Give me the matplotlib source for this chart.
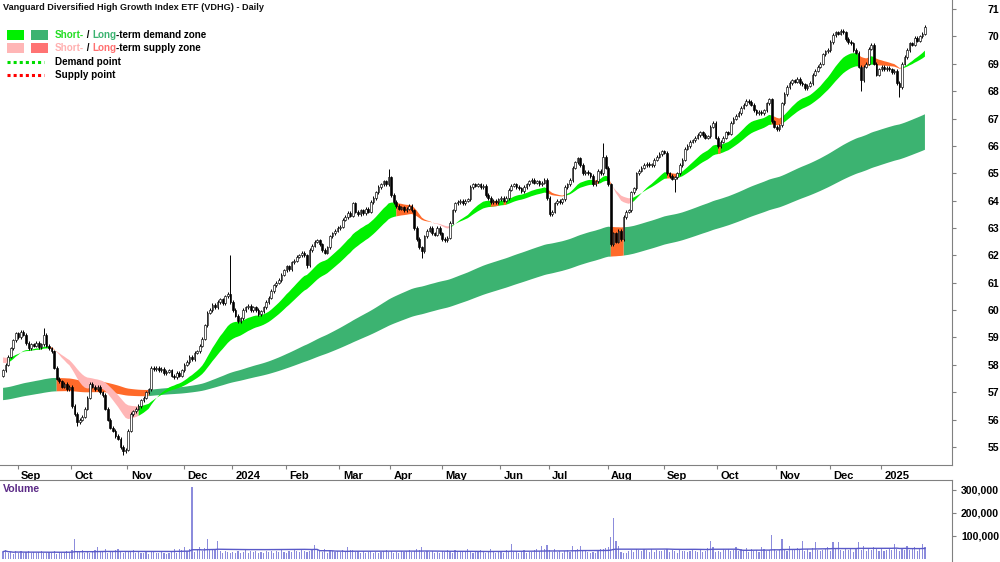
import numpy as np
import pandas as pd
import matplotlib
matplotlib.use("Agg")
import matplotlib.pyplot as plt
from matplotlib.transforms import ScaledTranslation
from matplotlib.patches import Rectangle

plt.rcParams['font.family'] = ['Liberation Sans', 'DejaVu Sans']

title = "Vanguard Diversified High Growth Index ETF (VDHG) - Daily"
start_date = "2023-08-24"
asx_holidays = ["2023-12-25", "2023-12-26", "2024-01-01", "2024-01-26", "2024-03-29",
                "2024-04-01", "2024-04-25", "2024-06-10", "2024-12-25", "2024-12-26",
                "2025-01-01", "2025-01-27"]

closes = [
    57.8, 58.0, 58.3, 58.6, 58.9, 59.15, 59.0, 59.2, 59.1, 58.8,
    58.6, 58.75, 58.7, 58.8, 58.65, 58.75, 59.1, 58.7, 58.6, 58.5,
    57.9, 57.5, 57.4, 57.2, 57.3, 57.1, 57.2, 56.5, 56.2, 55.9,
    56.0, 56.1, 56.4, 56.8, 57.3, 57.2, 57.1, 57.2, 57.0, 56.9,
    56.4, 56.0, 55.7, 55.6, 55.4, 55.3, 55.0, 54.85, 54.9, 55.6,
    56.2, 56.3, 56.4, 56.5, 56.7, 56.8, 57.0, 57.1, 57.9, 57.85,
    57.9, 57.8, 57.85, 57.7, 57.75, 57.8, 57.6, 57.55, 57.7, 57.6,
    57.8, 58.0, 58.1, 58.3, 58.2, 58.45, 58.5, 58.7, 58.95, 59.45,
    59.9, 60.0, 60.2, 60.1, 60.3, 60.4, 60.25, 60.5, 60.6, 60.3,
    60.0, 59.8, 59.6, 59.7, 60.0, 60.1, 60.15, 60.0, 60.1, 60.0,
    59.85, 59.95, 60.1, 60.3, 60.45, 60.7, 60.9, 61.0, 61.1, 61.3,
    61.45, 61.6, 61.5, 61.75, 61.8, 61.95, 62.0, 62.1, 62.0, 61.65,
    62.2, 62.35, 62.5, 62.55, 62.4, 62.2, 62.1, 62.3, 62.7, 62.8,
    62.9, 63.0, 63.05, 63.3, 63.4, 63.55, 63.45, 63.9, 63.6, 63.5,
    63.65, 63.55, 63.7, 63.6, 63.95, 64.1, 64.3, 64.5, 64.6, 64.7,
    64.6, 64.85, 64.2, 63.95, 63.8, 63.7, 63.75, 63.65, 63.7, 63.8,
    63.65, 63.0, 62.6, 62.3, 62.15, 62.7, 62.9, 63.0, 62.8, 62.75,
    63.0, 62.8, 62.6, 62.55, 62.65, 63.2, 63.65, 63.9, 63.95, 64.0,
    63.9, 64.0, 64.05, 64.5, 64.6, 64.55, 64.6, 64.5, 64.55, 64.2,
    64.1, 63.95, 64.0, 63.95, 64.05, 64.1, 64.0, 64.1, 64.4, 64.55,
    64.6, 64.5, 64.45, 64.35, 64.5, 64.6, 64.7, 64.75, 64.65, 64.7,
    64.6, 64.65, 64.75, 64.1, 63.5, 63.6, 63.9, 64.0, 63.95, 64.05,
    64.5, 64.6, 64.75, 65.2, 65.4, 65.55, 65.3, 65.0, 65.05, 65.0,
    64.9, 64.6, 64.7, 65.1, 65.0, 65.6, 65.2, 64.6, 62.4, 62.8,
    62.5, 62.9, 62.6, 63.4, 63.6, 63.65, 64.3, 64.45, 65.0, 65.1,
    65.2, 65.3, 65.35, 65.3, 65.3, 65.5, 65.6, 65.7, 65.8, 65.75,
    65.0, 64.9, 64.8, 64.85, 65.0, 65.3, 65.5, 65.9, 66.0, 66.15,
    66.2, 66.3, 66.4, 66.5, 66.4, 66.3, 66.35, 66.7, 66.85, 66.3,
    66.0, 66.15, 66.3, 66.5, 66.45, 66.85, 67.0, 67.1, 67.2, 67.4,
    67.5, 67.65, 67.6, 67.5, 67.3, 67.2, 67.25, 67.2, 67.3, 67.55,
    67.7, 66.9, 66.7, 66.6, 66.75, 67.55, 67.9, 68.15, 68.3, 68.4,
    68.35, 68.45, 68.3, 68.25, 68.1, 68.2, 68.3, 68.6, 68.75, 68.9,
    69.0, 69.35, 69.45, 69.5, 69.8, 70.05, 70.15, 70.1, 70.2, 70.15,
    69.9, 69.8, 69.75, 69.5, 69.4, 68.9, 68.4, 68.9, 69.0, 69.55,
    69.7, 69.0, 68.6, 68.8, 68.9, 68.8, 68.85, 68.8, 68.7, 68.75,
    68.3, 68.15, 69.0, 69.25, 69.5, 69.75, 69.7, 69.95, 69.85, 70.0,
    70.1, 70.35,
]
first_open = 57.6
high_overrides = {16: 59.35, 89: 62.0, 151: 65.15, 235: 66.1}
low_overrides = {29: 55.75, 47: 54.7, 119: 61.55, 164: 61.9, 263: 64.3, 336: 68.0, 351: 67.8}

volumes_k = [
    32, 38, 25, 30, 22, 35, 28, 33, 26, 30,
    34, 27, 31, 24, 29, 33, 28, 25, 30, 27,
    36, 22, 30, 26, 28, 33, 31, 40, 87, 35,
    33, 38, 28, 30, 25, 36, 41, 52, 30, 34,
    45, 28, 36, 32, 40, 44, 30, 27, 35, 33,
    29, 38, 26, 31, 24, 27, 30, 22, 36, 33,
    28, 25, 31, 27, 22, 26, 34, 42, 28, 45,
    38, 52, 36, 44, 313, 30, 40, 52, 34, 47,
    87, 41, 45, 38, 80, 36, 28, 34, 30, 26,
    32, 28, 35, 25, 30, 37, 26, 33, 29, 35,
    27, 31, 24, 36, 29, 33, 28, 34, 30, 38,
    32, 27, 36, 29, 40, 33, 30, 37, 35, 31,
    34, 38, 60, 42, 35, 30, 44, 28, 38, 33,
    29, 36, 32, 41, 35, 52, 38, 40, 30, 34,
    27, 33, 25, 30, 35, 28, 31, 24, 29, 34,
    40, 32, 36, 28, 30, 26, 33, 29, 35, 38,
    30, 34, 42, 38, 50, 32, 36, 29, 33, 27,
    31, 26, 35, 30, 38, 33, 28, 40, 34, 30,
    36, 29, 44, 31, 27, 35, 30, 38, 32, 28,
    30, 42, 35, 27, 33, 30, 25, 38, 36, 65,
    30, 33, 28, 35, 40, 27, 32, 30, 38, 45,
    33, 57, 42, 60, 38, 32, 44, 30, 35, 28,
    34, 40, 31, 55, 38, 44, 56, 40, 33, 30,
    28, 32, 26, 35, 45, 42, 48, 50, 96, 178,
    78, 55, 30, 25, 28, 33, 38, 30, 44, 40,
    35, 42, 38, 32, 45, 30, 40, 36, 33, 38,
    44, 31, 38, 35, 28, 40, 33, 36, 30, 34,
    41, 35, 30, 38, 32, 36, 48, 78, 50, 32,
    36, 30, 42, 38, 45, 33, 40, 54, 36, 43,
    38, 46, 32, 44, 36, 40, 30, 50, 42, 35,
    38, 104, 44, 35, 40, 87, 45, 36, 55, 40,
    38, 48, 42, 78, 36, 44, 30, 46, 72, 38,
    35, 40, 42, 50, 36, 75, 44, 75, 38, 35,
    42, 38, 45, 30, 48, 72, 40, 55, 36, 44,
    38, 50, 42, 33, 46, 36, 40, 48, 38, 65,
    42, 36, 48, 40, 55, 38, 44, 50, 36, 45,
    65, 52,
]

short_spans = (20, 34)
short_seeds = (58.1, 58.3)
long_spans = (150, 230)
long_seeds = (57.15, 56.7)

# ---------------------------------------------------------------------------
c = np.array(closes, dtype=float)
n = len(c)
x = np.arange(n)
o = np.r_[first_open, c[:-1]]
hi = np.maximum(o, c) + 0.06
lo = np.minimum(o, c) - 0.06
for k, v in high_overrides.items():
    hi[k] = v
for k, v in low_overrides.items():
    lo[k] = v
vol = np.array(volumes_k, dtype=float) * 1000
dates = pd.bdate_range(start=start_date, periods=n, freq='C', holidays=asx_holidays)


def ema(vals, span, seed):
    a = 2.0 / (span + 1)
    out = np.empty(len(vals))
    e = seed
    for i, v in enumerate(vals):
        e = e + a * (v - e)
        out[i] = e
    return out


sf = ema(c, short_spans[0], short_seeds[0])
ss = ema(c, short_spans[1], short_seeds[1])
lf = ema(c, long_spans[0], long_seeds[0])
ls = ema(c, long_spans[1], long_seeds[1])

GREEN_S = '#00F000'
GREEN_L = '#3CB371'
PINK = '#FFB6B6'
ORANGE = '#FF6A2A'


def ext(m):
    return m | np.r_[False, m[:-1]]


fig = plt.figure(figsize=(10, 5.62), dpi=100)
W, H = 1000.0, 562.0
ax = fig.add_axes([0, (H - 465) / H, 952 / W, 465 / H])
axv = fig.add_axes([0, 0, 952 / W, (H - 480) / H])

# long-term zone: supply while the close sits below the zone's top edge
long_sup = (c < np.maximum(lf, ls)) | (lf < ls)
ax.fill_between(x, lf, ls, where=ext(~long_sup), color=GREEN_L, linewidth=0, zorder=1)
ax.fill_between(x, lf, ls, where=ext(long_sup), color=ORANGE, linewidth=0, zorder=1.1)

# short-term zone
short_sup = c < np.maximum(sf, ss)
crossed = sf < ss
ax.fill_between(x, sf, ss, where=ext(~short_sup), color=GREEN_S, linewidth=0, zorder=2)
ax.fill_between(x, sf, ss, where=ext(short_sup & ~crossed), color=ORANGE, linewidth=0, zorder=2.1)
ax.fill_between(x, sf, ss, where=ext(short_sup & crossed), color=PINK, linewidth=0, zorder=2.2)

# candles
ax.vlines(x, lo, hi, color='black', linewidth=0.7, zorder=3)
up = c >= o
body_h = np.maximum(np.abs(c - o), 0.03)
ax.bar(x, body_h, bottom=np.minimum(o, c), width=0.65,
       color=np.where(up, 'white', 'black'), edgecolor='black', linewidth=0.45, zorder=4)

ax.set_xlim(-1.2, 371.6)
ax.set_ylim(54.34, 71.33)
axv.set_xlim(-1.2, 371.6)
axv.set_ylim(-13000, 343000)

# volume
axv.bar(x, vol, width=0.45, color='#8C8CDC', linewidth=0, zorder=2)
vavg = pd.Series(vol).rolling(50, min_periods=1).mean().to_numpy()
axv.plot(x, vavg, color='#5A5AC8', linewidth=1.0, zorder=3)

# month ticks
mt, ml = [], []
for i in range(1, n):
    if dates[i].month != dates[i - 1].month:
        mt.append(i - 0.3)
        ml.append(str(dates[i].year) if dates[i].month == 1 else dates[i].strftime('%b'))

spine_col = '#808080'
for a in (ax, axv):
    for s in a.spines.values():
        s.set_visible(False)
    a.spines['right'].set_visible(True)
    a.spines['right'].set_color(spine_col)
    a.yaxis.tick_right()
ax.spines['bottom'].set_visible(True)
ax.spines['bottom'].set_color(spine_col)
axv.spines['top'].set_visible(True)
axv.spines['top'].set_color(spine_col)

ax.set_xticks(mt)
ax.set_xticklabels(ml, fontsize=8, fontweight='bold')
ax.tick_params(axis='x', length=3, color=spine_col, pad=1.5)
for lbl in ax.get_xticklabels():
    lbl.set_horizontalalignment('left')
    lbl.set_transform(lbl.get_transform() + ScaledTranslation(2.5 / 72, 0, fig.dpi_scale_trans))
axv.set_xticks([])

ax.set_yticks(np.arange(55, 72, 1))
ax.set_yticklabels([str(v) for v in range(55, 72)], fontsize=7.6, fontweight='bold')
axv.set_yticks([100000, 200000, 300000])
axv.set_yticklabels(['100,000', '200,000', '300,000'], fontsize=7.6, fontweight='bold')
for a in (ax, axv):
    a.tick_params(axis='y', length=3, color=spine_col, pad=31)
    for lbl in a.get_yticklabels():
        lbl.set_horizontalalignment('right')

# overlay for title and legend
ov = fig.add_axes([0, 0, 1, 1], facecolor='none')
ov.set_xlim(0, W)
ov.set_ylim(H, 0)
ov.axis('off')
ov.text(3, 8, title, fontsize=6.6, fontweight='bold', va='center', ha='left', color='#111111')

ov.add_patch(Rectangle((7, 30), 17, 10, color=GREEN_S, linewidth=0))
ov.add_patch(Rectangle((31, 30), 17, 10, color=GREEN_L, linewidth=0))
ov.add_patch(Rectangle((7, 43), 17, 10, color=PINK, linewidth=0))
ov.add_patch(Rectangle((31, 43), 17, 10, color='#FF7373', linewidth=0))
ov.plot([7, 44], [62, 62], color='#00DD00', linewidth=2.2, linestyle=(0, (1, 1)))
ov.plot([7, 44], [75, 75], color='#FF0000', linewidth=2.2, linestyle=(0, (1, 1)))


def chain(xp, yp, parts):
    t = ov.text(xp, yp, parts[0][0], color=parts[0][1], fontsize=7.1, fontweight='bold',
                va='center', ha='left')
    for s, col in parts[1:]:
        t = ov.annotate(s, xy=(1, 0), xycoords=t, va='bottom', ha='left', color=col,
                        fontsize=7.1, fontweight='bold')


chain(55, 35, [('Short-', '#22DD22'), (' / ', 'black'), ('Long', GREEN_L), ('-term demand zone', 'black')])
chain(55, 48, [('Short-', '#FFB0B0'), (' / ', 'black'), ('Long', '#FF7070'), ('-term supply zone', 'black')])
chain(55, 62, [('Demand point', 'black')])
chain(55, 75, [('Supply point', 'black')])
ov.text(3, 489, 'Volume', fontsize=7.6, fontweight='bold', color='#5B2A86', va='center', ha='left')

fig.savefig('out.png', dpi=100)
